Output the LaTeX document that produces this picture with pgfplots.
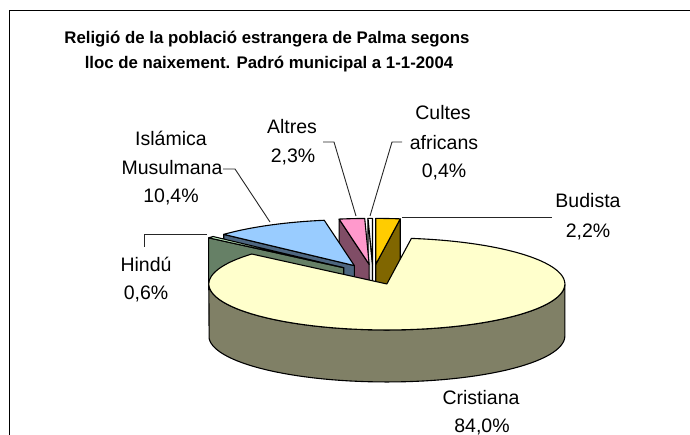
\documentclass[border=0pt]{standalone}
\usepackage{pgfplots}
\usepackage{pgfplotstable}
\pgfplotsset{compat=1.18}
\usepackage{fontspec}
\setmainfont{Liberation Sans}

\definecolor{crtop}{RGB}{255,255,204}
\definecolor{crside}{RGB}{128,128,102}
\definecolor{butop}{RGB}{255,204,0}
\definecolor{buside}{RGB}{128,102,0}
\definecolor{altop}{RGB}{255,153,204}
\definecolor{alside}{RGB}{128,77,102}
\definecolor{istop}{RGB}{153,204,255}
\definecolor{isside}{RGB}{77,102,128}
\definecolor{hitop}{RGB}{204,255,204}
\definecolor{hiside}{RGB}{102,128,102}
\definecolor{cutop}{RGB}{255,255,255}
\definecolor{cuside}{RGB}{235,235,235}

% slices clockwise from 12 o'clock (percent)
\pgfplotstableread{
name value
Budista 2.2
Cristiana 84.0
Hindu 0.6
Islamica 10.4
Altres 2.3
Cultes 0.4
}\pietable

% pie geometry (pixels, y downward)
\def\Px{373}\def\Py{274.5}\def\R{178}\def\Ry{46}\def\D{52}\def\E{0.22}

\newcommand\lab{\fontsize{19.5}{24}\selectfont}

\newcommand\radialface[2]{%
  \pgfmathsetmacro\ox{\cx+\R*sin(#1)}%
  \pgfmathsetmacro\oy{\cy-\Ry*cos(#1)}%
  \pgfmathsetmacro\oyb{\oy+\D}%
  \edef\tmp{\noexpand\addplot[fill=#2,draw=black,line width=1.1pt,line join=round] coordinates {(\cx,\cy) (\ox,\oy) (\ox,\oyb) (\cx,\cyb)} -- cycle;}\tmp}

\newcommand\curvedside[1]{%
  \edef\tmp{\noexpand\addplot[fill=#1,draw=black,line width=1.1pt,line join=round,domain=0:2,samples=121] ({\cx+\R*sin(\aa+(\bb-\aa)*min(x,2-x))},{\cy-\Ry*cos(\aa+(\bb-\aa)*min(x,2-x))+\D*(x>1)}) -- cycle;}\tmp}

\newcommand\drawslice[3]{%
  \pgfmathsetmacro\A{\csname sa#1\endcsname}%
  \pgfmathsetmacro\B{\csname ea#1\endcsname}%
  \pgfmathsetmacro\M{(\A+\B)/2}%
  \pgfmathsetmacro\cx{\Px+\E*\R*sin(\M)}%
  \pgfmathsetmacro\cy{\Py-\E*\Ry*cos(\M)}%
  \pgfmathsetmacro\cyb{\cy+\D}%
  \pgfmathsetmacro\sA{sin(\A)}%
  \ifdim\sA pt<-0.01pt \radialface{\A}{#3}\fi
  \pgfmathsetmacro\sB{sin(\B)}%
  \ifdim\sB pt>0.01pt \radialface{\B}{#3}\fi
  \pgfmathsetmacro\aa{max(\A,90)}%
  \pgfmathsetmacro\bb{min(\B,270)}%
  \ifdim\aa pt<\bb pt \curvedside{#3}\fi
  \pgfmathtruncatemacro\N{max(4,(\B-\A)/2)}%
  \edef\tmp{\noexpand\addplot[fill=#2,draw=black,line width=1.1pt,line join=round,domain=\A:\B,samples=\N] ({\cx+\R*sin(x)},{\cy-\Ry*cos(x)}) -- (axis cs:\cx,\cy) -- cycle;}\tmp
}

\begin{document}
\begin{tikzpicture}
\pgfmathsetmacro\total{0}%
\pgfplotsforeachungrouped \i in {0,...,5}{%
  \pgfplotstablegetelem{\i}{value}\of\pietable
  \pgfmathsetmacro\total{\total+\pgfplotsretval}%
}%
\def\cum{0}%
\pgfplotsforeachungrouped \i in {0,...,5}{%
  \pgfplotstablegetelem{\i}{value}\of\pietable
  \pgfmathsetmacro\sa{\cum/\total*360}%
  \pgfmathsetmacro\cum{\cum+\pgfplotsretval}%
  \pgfmathsetmacro\ea{\cum/\total*360}%
  \expandafter\xdef\csname sa\i\endcsname{\sa}%
  \expandafter\xdef\csname ea\i\endcsname{\ea}%
}%
\begin{axis}[
  width=690pt, height=435pt, scale only axis,
  xmin=0, xmax=690, ymin=0, ymax=435, y dir=reverse,
  axis lines=none, ticks=none, no markers,
]
% chart area frame (cropped)
\addplot[black, line width=1.3pt] coordinates {(9.5,450) (9.5,10.5) (720,10.5)};

% slices, back to front
\drawslice{0}{butop}{buside}
\drawslice{5}{cutop}{cuside}
\drawslice{4}{altop}{alside}
\drawslice{3}{istop}{isside}
\drawslice{2}{hitop}{hiside}
\drawslice{1}{crtop}{crside}

% leader lines
\draw[black!85, line width=0.9pt] (axis cs:402,217) -- (axis cs:552,217);
\draw[black!85, line width=0.9pt] (axis cs:370,216) -- (axis cs:392,142) -- (axis cs:402,142);
\draw[black!85, line width=0.9pt] (axis cs:356,216) -- (axis cs:334,142) -- (axis cs:323,142);
\draw[black!85, line width=0.9pt] (axis cs:270,222) -- (axis cs:235,169) -- (axis cs:223,169);
\draw[black!85, line width=0.9pt] (axis cs:207,234) -- (axis cs:144,234) -- (axis cs:144,247);

% title
\node[anchor=base, font=\fontsize{16.8}{20}\selectfont\bfseries] at (axis cs:267,44) {Religió de la població estrangera de Palma segons};
\node[anchor=base, font=\fontsize{16.8}{20}\selectfont\bfseries] at (axis cs:269,69) {lloc de naixement. Padró municipal a 1-1-2004};

% data labels
\node[anchor=base, font=\lab] at (axis cs:443,120) {Cultes};
\node[anchor=base, font=\lab] at (axis cs:444,150) {africans};
\node[anchor=base, font=\lab] at (axis cs:444,178) {0,4\%};
\node[anchor=base, font=\lab] at (axis cs:292,134) {Altres};
\node[anchor=base, font=\lab] at (axis cs:293,163) {2,3\%};
\node[anchor=base, font=\lab] at (axis cs:171,146) {Islámica};
\node[anchor=base, font=\lab] at (axis cs:172,175) {Musulmana};
\node[anchor=base, font=\lab] at (axis cs:171,203) {10,4\%};
\node[anchor=base, font=\lab] at (axis cs:146,272) {Hindú};
\node[anchor=base, font=\lab] at (axis cs:146,300) {0,6\%};
\node[anchor=base, font=\lab] at (axis cs:588,208) {Budista};
\node[anchor=base, font=\lab] at (axis cs:588,238) {2,2\%};
\node[anchor=base, font=\lab] at (axis cs:481,404) {Cristiana};
\node[anchor=base, font=\lab] at (axis cs:482,432) {84,0\%};
\end{axis}
\pgfresetboundingbox
\path (current axis.south west) rectangle (current axis.north east);
\end{tikzpicture}
\end{document}
